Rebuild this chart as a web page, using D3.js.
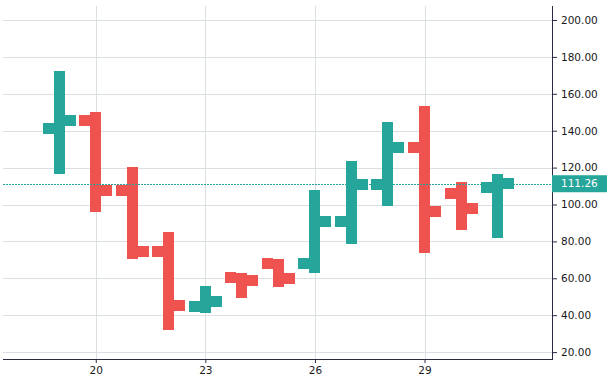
<!DOCTYPE html>
<html>
<head>
<meta charset="utf-8">
<script src="https://cdn.jsdelivr.net/npm/d3@7"></script>
<style>
  html, body { margin: 0; padding: 0; background: #ffffff; }
  svg { display: block; }
</style>
</head>
<body>
<svg id="chart" width="607" height="383"></svg>
<script>
// ---- data ----
const days   = [19, 20, 21, 22, 23, 24, 25, 26, 27, 28, 29, 30, 31];
const opens  = [141.3, 145.6, 107.7, 74.6, 44.8, 60.5, 68.1, 67.8, 90.9, 110.9, 131.0, 106.1, 109.3];
const highs  = [172.4, 150.1, 120.5, 85.3, 55.8, 63.0, 70.6, 107.9, 123.6, 144.7, 153.4, 112.2, 116.5];
const lows   = [116.7, 96.1, 70.6, 32.2, 41.4, 49.5, 55.4, 63.0, 78.8, 99.4, 73.9, 86.3, 82.0];
const closes = [145.6, 107.7, 74.6, 45.3, 47.5, 58.9, 60.0, 90.9, 110.9, 131.0, 96.3, 97.9, 111.26];
const priceTicks = [20, 40, 60, 80, 100, 120, 140, 160, 180, 200];
const timeTicks  = [20, 23, 26, 29];
const lastPrice  = 111.26;

// ---- layout ----
const W = 607, H = 383;
const plotLeft = 3, plotRight = 552, plotTop = 6, plotBottom = 359;
const upColor = "#26a69a", downColor = "#ef5350";
const gridColor = "#dadfe2", axisColor = "#2b2b43", textColor = "#191919";
const font = "DejaVu Sans, sans-serif";

const x = d3.scaleLinear().domain([17.46, 32.49]).range([plotLeft, plotRight]);
const y = d3.scaleLinear().domain([20, 200]).range([352.1, 20]);

const svg = d3.select("#chart");

// grid
const grid = svg.append("g").attr("shape-rendering", "crispEdges");
grid.selectAll("line.h").data(priceTicks).join("line")
  .attr("x1", plotLeft).attr("x2", plotRight)
  .attr("y1", d => Math.round(y(d)) + 0.5).attr("y2", d => Math.round(y(d)) + 0.5)
  .attr("stroke", gridColor).attr("stroke-width", 1);
grid.selectAll("line.v").data(timeTicks).join("line")
  .attr("x1", d => Math.round(x(d)) + 0.5).attr("x2", d => Math.round(x(d)) + 0.5)
  .attr("y1", plotTop).attr("y2", plotBottom)
  .attr("stroke", gridColor).attr("stroke-width", 1);

// bars
const data = days.map((d, i) => ({ day: d, o: opens[i], h: highs[i], l: lows[i], c: closes[i] }));
const bw = 11;
const bars = svg.append("g").attr("shape-rendering", "crispEdges");
const bar = bars.selectAll("g").data(data).join("g")
  .attr("fill", d => d.c >= d.o ? upColor : downColor);
bar.append("rect")
  .attr("x", d => Math.round(x(d.day) - bw / 2))
  .attr("width", bw)
  .attr("y", d => y(d.h))
  .attr("height", d => y(d.l) - y(d.h));
bar.append("rect")
  .attr("x", d => Math.round(x(d.day) - bw / 2) - bw)
  .attr("width", bw)
  .attr("y", d => y(d.o) - bw / 2)
  .attr("height", bw);
bar.append("rect")
  .attr("x", d => Math.round(x(d.day) - bw / 2) + bw)
  .attr("width", bw)
  .attr("y", d => y(d.c) - bw / 2)
  .attr("height", bw);

// last price line
svg.append("line")
  .attr("x1", plotLeft).attr("x2", plotRight)
  .attr("y1", Math.round(y(lastPrice)) + 0.5).attr("y2", Math.round(y(lastPrice)) + 0.5)
  .attr("stroke", upColor).attr("stroke-width", 1)
  .attr("stroke-dasharray", "2,1").attr("shape-rendering", "crispEdges");

// right price axis
const yAxis = d3.axisRight(y).tickValues(priceTicks).tickFormat(d3.format(".2f")).tickSize(5).tickPadding(4);
const ya = svg.append("g").attr("transform", `translate(${plotRight},0)`).call(yAxis);
ya.select(".domain").remove();
ya.selectAll("line").attr("stroke", axisColor);
ya.selectAll("text").attr("fill", textColor).attr("font-family", font).attr("font-size", 10.5);
svg.append("line").attr("x1", plotRight + 0.5).attr("x2", plotRight + 0.5)
  .attr("y1", plotTop).attr("y2", plotBottom + 1)
  .attr("stroke", axisColor).attr("shape-rendering", "crispEdges");

// bottom time axis
const xAxis = d3.axisBottom(x).tickValues(timeTicks).tickFormat(d => String(d)).tickSize(4).tickPadding(4);
const xa = svg.append("g").attr("transform", `translate(0,${plotBottom})`).call(xAxis);
xa.select(".domain").remove();
xa.selectAll("line").attr("stroke", axisColor);
xa.selectAll("text").attr("fill", textColor).attr("font-family", font).attr("font-size", 10.5);
svg.append("line").attr("x1", plotLeft).attr("x2", plotRight + 1)
  .attr("y1", plotBottom + 0.5).attr("y2", plotBottom + 0.5)
  .attr("stroke", axisColor).attr("shape-rendering", "crispEdges");

// last price label
const ly = y(lastPrice);
svg.append("rect").attr("x", plotRight).attr("y", ly - 8.5).attr("width", W - plotRight).attr("height", 17)
  .attr("fill", upColor);
svg.append("text").attr("x", 561).attr("y", ly).attr("dy", "0.35em")
  .attr("fill", "#ffffff").attr("font-family", font).attr("font-size", 10.5)
  .text(d3.format(".2f")(lastPrice));
</script>
</body>
</html>
